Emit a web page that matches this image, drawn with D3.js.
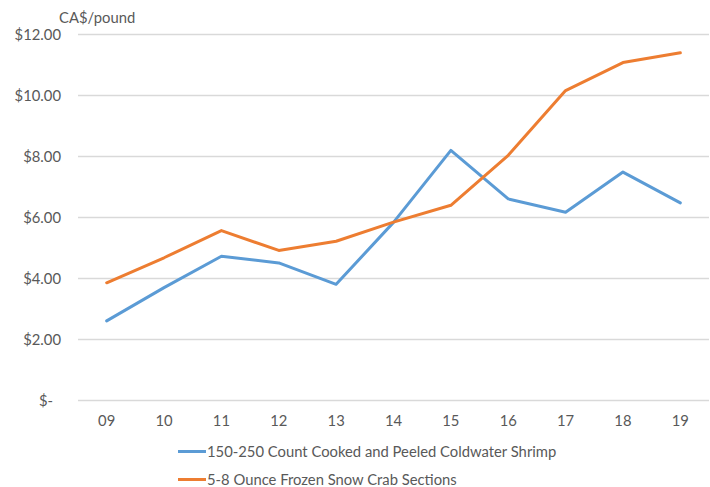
<!DOCTYPE html>
<html><head><meta charset="utf-8">
<script src="https://cdn.jsdelivr.net/npm/d3@7"></script>
<style>body{margin:0;background:#fff}svg{display:block}text{font-family:Lato,"Open Sans",sans-serif;fill:#595959}</style>
</head><body><svg id="c" width="710" height="487"></svg>
<script>
const years = ["09","10","11","12","13","14","15","16","17","18","19"];
const shrimp = [2.61, 3.70, 4.73, 4.51, 3.81, 5.84, 8.20, 6.61, 6.17, 7.49, 6.48];
const crab = [3.86, 4.68, 5.57, 4.92, 5.22, 5.85, 6.40, 8.04, 10.16, 11.08, 11.40];
const yTicks = [0, 2, 4, 6, 8, 10, 12];
const seriesNames = ["150-250 Count Cooked and Peeled Coldwater Shrimp", "5-8 Ounce Frozen Snow Crab Sections"];
const colors = ["#5B9BD5", "#ED7D31"];

const svg = d3.select("#c");
const x = d3.scaleBand().domain(years).range([78, 709]);
const y = d3.scaleLinear().domain([0, 12]).range([400.5, 34.5]);
const FS = "14.8px";

const fmt = v => v === 0 ? "$-" : "$" + v.toFixed(2);
svg.append("g").selectAll("line").data(yTicks).join("line")
  .attr("x1", 78).attr("x2", 709).attr("y1", d => y(d)).attr("y2", d => y(d))
  .attr("stroke", "#D9D9D9").attr("stroke-width", 1.3);
svg.append("g").selectAll("text").data(yTicks).join("text")
  .attr("x", d => d === 0 ? 53 : 61).attr("y", d => y(d)).attr("dy", "0.35em")
  .attr("text-anchor", "end").style("font-size", FS).text(fmt);
svg.append("g").selectAll("text").data(years).join("text")
  .attr("x", d => x(d) + x.bandwidth() / 2).attr("y", 421).attr("dy", "0.35em")
  .attr("text-anchor", "middle").style("font-size", FS).text(d => d);
svg.append("text").attr("x", 59).attr("y", 18).attr("dy", "0.35em")
  .style("font-size", FS).text("CA$/pound");

const line = d3.line().x((d, i) => x(years[i]) + x.bandwidth() / 2).y(d => y(d));
[shrimp, crab].forEach((s, k) => {
  svg.append("path").datum(s).attr("d", line).attr("fill", "none")
    .attr("stroke", colors[k]).attr("stroke-width", 3).attr("stroke-linejoin", "round").attr("stroke-linecap", "round");
});
const lg = svg.append("g");
seriesNames.forEach((n, k) => {
  const ly = 451.5 + k * 28;
  lg.append("line").attr("x1", 178).attr("x2", 206).attr("y1", ly).attr("y2", ly)
    .attr("stroke", colors[k]).attr("stroke-width", 3);
  lg.append("text").attr("x", 207).attr("y", ly).attr("dy", "0.35em")
    .style("font-size", FS).text(n);
});
</script></body></html>
